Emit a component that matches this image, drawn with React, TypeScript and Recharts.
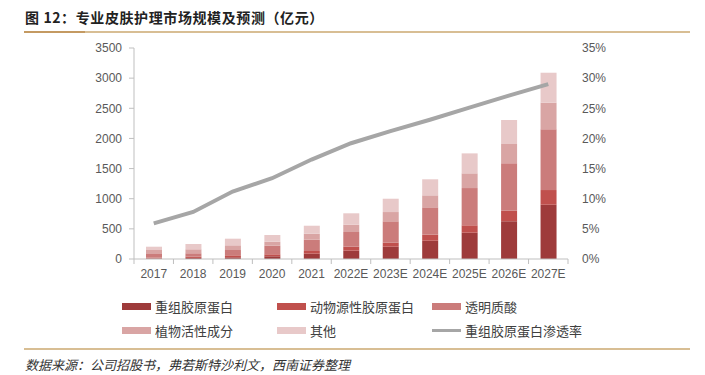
import React from "react";
import {
  Bar,
  CartesianGrid,
  ComposedChart,
  Line,
  XAxis,
  YAxis,
} from "recharts";

export const years = [
  "2017", "2018", "2019", "2020", "2021", "2022E",
  "2023E", "2024E", "2025E", "2026E", "2027E",
];
export const recombinant = [8, 18, 28, 45, 88, 138, 204, 303, 436, 625, 900];
export const animal = [15, 20, 33, 33, 45, 66, 66, 100, 123, 176, 244];
export const hyaluronic = [60, 57, 88, 143, 187, 244, 355, 454, 618, 786, 1007];
export const botanical = [66, 66, 78, 66, 100, 121, 154, 199, 244, 320, 441];
export const others = [55, 88, 110, 111, 132, 189, 221, 266, 331, 398, 498];
export const penetration = [5.9, 7.8, 11.2, 13.4, 16.5, 19.2, 21.2, 23.1, 25.1, 27.1, 29.0];

const leftTicks = [0, 500, 1000, 1500, 2000, 2500, 3000, 3500];
const rightTicks = [0, 5, 10, 15, 20, 25, 30, 35];

const data = years.map((year, i) => ({
  year,
  recombinant: recombinant[i],
  animal: animal[i],
  hyaluronic: hyaluronic[i],
  botanical: botanical[i],
  others: others[i],
  penetration: penetration[i],
}));

const COLORS = {
  recombinant: "#9E3B3B",
  animal: "#C0504D",
  hyaluronic: "#CB7C7B",
  botanical: "#D9A5A4",
  others: "#E8C9C9",
  line: "#A6A6A6",
};

const PLOT_LEFT = 134;
const PLOT_RIGHT = 568;
const STEP = (PLOT_RIGHT - PLOT_LEFT) / years.length;
const AXIS_COLOR = "#BFBFBF";
const TICK_FONT = "'Liberation Sans', Arial, sans-serif";
const CJK = "'Noto Sans CJK SC', sans-serif";

const XTick = (props: any) => {
  const { x, y, payload, index } = props;
  const y0 = y - 10;
  const left = x - STEP / 2;
  return (
    <g>
      <line x1={left} y1={y0} x2={left} y2={y0 + 5} stroke={AXIS_COLOR} />
      {index === years.length - 1 && (
        <line x1={x + STEP / 2} y1={y0} x2={x + STEP / 2} y2={y0 + 5} stroke={AXIS_COLOR} />
      )}
      <text
        x={x}
        y={y}
        dy="0.71em"
        textAnchor="middle"
        fill="#595959"
        fontSize={12}
        fontFamily={TICK_FONT}
      >
        {payload.value}
      </text>
    </g>
  );
};

const legendItems = [
  { label: "重组胶原蛋白", color: COLORS.recombinant, x: 122, y: 306 },
  { label: "动物源性胶原蛋白", color: COLORS.animal, x: 277, y: 306 },
  { label: "透明质酸", color: COLORS.hyaluronic, x: 432, y: 306 },
  { label: "植物活性成分", color: COLORS.botanical, x: 122, y: 330 },
  { label: "其他", color: COLORS.others, x: 277, y: 330 },
  { label: "重组胶原蛋白渗透率", color: COLORS.line, x: 432, y: 330, line: true },
];

export default function App() {
  return (
    <div
      style={{
        position: "absolute",
        left: 0,
        top: 0,
        width: 705,
        height: 375,
        background: "#fff",
        fontFamily: CJK,
      }}
    >
      {/* title */}
      <div
        style={{
          position: "absolute",
          left: 25,
          top: 7,
          fontSize: 14,
          fontWeight: 700,
          color: "#222",
          letterSpacing: 0.6,
          whiteSpace: "nowrap",
        }}
      >
        图 12：专业皮肤护理市场规模及预测（亿元）
      </div>
      <div style={{ position: "absolute", left: 24, top: 31, width: 666, height: 1.5, background: "#D8BE94" }} />
      <div style={{ position: "absolute", left: 24, top: 31, width: 61, height: 2, background: "#C49A62" }} />

      <ComposedChart
        width={705}
        height={375}
        data={data}
        margin={{ top: 48, right: 0, bottom: 86, left: 0 }}
        style={{ position: "absolute", left: 0, top: 0 }}
      >
        <CartesianGrid vertical={false} horizontal={false} />
        <XAxis
          dataKey="year"
          height={30}
          stroke={AXIS_COLOR}
          tickLine={false}
          tickSize={5}
          tickMargin={5}
          interval={0}
          tick={<XTick />}
        />
        <YAxis
          yAxisId="left"
          width={134}
          domain={[0, 3500]}
          ticks={leftTicks}
          stroke={AXIS_COLOR}
          tickSize={5}
          tickMargin={7}
          tick={{ fill: "#595959", fontSize: 12, fontFamily: TICK_FONT }}
        />
        <YAxis
          yAxisId="right"
          orientation="right"
          width={137}
          domain={[0, 35]}
          ticks={rightTicks}
          axisLine={false}
          tickLine={false}
          tickSize={0}
          tickMargin={14}
          tickFormatter={(v: number) => `${v}%`}
          tick={{ fill: "#595959", fontSize: 12, fontFamily: TICK_FONT, textAnchor: "start" }}
        />
        <Bar yAxisId="left" dataKey="recombinant" stackId="a" fill={COLORS.recombinant} barSize={16} isAnimationActive={false} />
        <Bar yAxisId="left" dataKey="animal" stackId="a" fill={COLORS.animal} barSize={16} isAnimationActive={false} />
        <Bar yAxisId="left" dataKey="hyaluronic" stackId="a" fill={COLORS.hyaluronic} barSize={16} isAnimationActive={false} />
        <Bar yAxisId="left" dataKey="botanical" stackId="a" fill={COLORS.botanical} barSize={16} isAnimationActive={false} />
        <Bar yAxisId="left" dataKey="others" stackId="a" fill={COLORS.others} barSize={16} isAnimationActive={false} />
        <Line
          yAxisId="right"
          dataKey="penetration"
          stroke={COLORS.line}
          strokeWidth={4}
          dot={false}
          type="linear"
          isAnimationActive={false}
        />
      </ComposedChart>

      {/* legend */}
      {legendItems.map((item) => (
        <div
          key={item.label}
          style={{
            position: "absolute",
            left: item.x,
            top: item.y - 10,
            height: 20,
            display: "flex",
            alignItems: "center",
            whiteSpace: "nowrap",
          }}
        >
          <span
            style={{
              display: "inline-block",
              width: 29,
              height: item.line ? 3 : 7,
              background: item.color,
              marginRight: 4,
            }}
          />
          <span style={{ fontSize: 13, color: "#404040" }}>{item.label}</span>
        </div>
      ))}

      <div style={{ position: "absolute", left: 24, top: 348, width: 666, height: 2, background: "#D8BE94" }} />
      <div
        style={{
          position: "absolute",
          left: 25,
          top: 355,
          fontSize: 13,
          fontStyle: "italic",
          color: "#333",
          whiteSpace: "nowrap",
        }}
      >
        数据来源：公司招股书，弗若斯特沙利文，西南证券整理
      </div>
    </div>
  );
}
